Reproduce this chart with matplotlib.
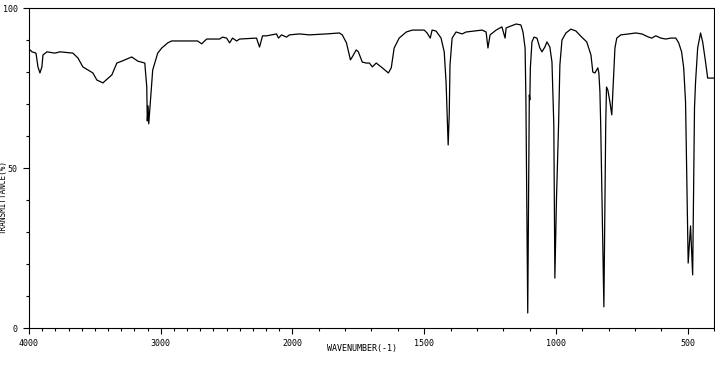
import numpy as np
import matplotlib.pyplot as plt
from matplotlib.ticker import FixedLocator, NullFormatter

# IR spectrum (wavenumber in cm-1, transmittance in %)
wavenumber = [
    4000, 3977, 3947, 3932, 3917, 3902, 3894, 3864, 3803, 3765, 3667, 3629,
    3591, 3515, 3485, 3439, 3371, 3333, 3295, 3220, 3174, 3121, 3106, 3102,
    3096, 3091, 3076, 3061, 3023, 2992, 2947, 2917, 2720, 2689, 2667, 2651,
    2553, 2530, 2500, 2477, 2455, 2424, 2401, 2273, 2250, 2227, 2197, 2121,
    2106, 2083, 2045, 2023, 1973, 1936, 1871, 1822, 1811, 1795, 1780, 1773,
    1758, 1750, 1735, 1720, 1708, 1697, 1682, 1659, 1636, 1625, 1614, 1595,
    1568, 1545, 1500, 1489, 1477, 1470, 1455, 1436, 1424, 1417, 1413, 1409,
    1405, 1402, 1394, 1379, 1356, 1341, 1280, 1265, 1258, 1250, 1227, 1205,
    1193, 1189, 1151, 1133, 1125, 1117, 1114, 1107, 1104, 1101, 1099, 1097,
    1091, 1083, 1072, 1061, 1053, 1042, 1034, 1023, 1015, 1011, 1008, 1004,
    998, 990, 985, 977, 962, 943, 924, 902, 883, 867, 860, 852,
    841, 837, 833, 830, 818, 811, 808, 803, 795, 788, 784, 776,
    769, 754, 723, 697, 674, 648, 636, 621, 602, 583, 564, 545,
    534, 523, 515, 508, 498, 489, 481, 474, 470, 462, 451, 443,
    432, 424, 413, 400,
]
transmittance = [
    87.2, 86.3, 85.9, 81.6, 79.7, 81.6, 85.3, 86.3, 85.9, 86.3, 85.9, 84.4,
    81.6, 79.7, 77.5, 76.6, 79.1, 82.8, 83.4, 84.7, 83.4, 82.8, 75.3, 64.7,
    69.4, 63.8, 72.2, 80.6, 85.9, 87.5, 89.1, 89.7, 89.7, 88.8, 89.7, 90.3,
    90.3, 90.9, 90.6, 89.1, 90.6, 89.7, 90.3, 90.6, 87.8, 91.3, 91.3, 91.9,
    90.6, 91.6, 90.9, 91.6, 91.9, 91.6, 91.9, 92.2, 91.6, 89.1, 83.8, 84.7,
    86.9, 86.3, 83.1, 82.8, 82.8, 81.6, 82.8, 81.3, 79.7, 81.3, 87.5, 90.6,
    92.5, 93.1, 93.1, 92.2, 90.6, 93.1, 92.8, 90.6, 86.3, 76.9, 66.6, 57.2,
    66.6, 82.2, 90.6, 92.5, 91.9, 92.5, 93.1, 92.5, 87.5, 91.6, 93.1, 94.1,
    90.6, 93.8, 95.0, 94.7, 92.5, 87.5, 71.9, 4.7, 40.0, 72.8, 71.3, 81.3,
    89.4, 90.9, 90.6, 87.5, 86.3, 87.8, 89.4, 87.8, 83.1, 71.9, 63.4, 15.6,
    40.0, 63.4, 82.2, 90.0, 92.2, 93.4, 92.8, 90.9, 89.4, 85.3, 80.0, 79.7,
    81.3, 79.7, 73.8, 63.4, 6.6, 63.4, 75.3, 74.4, 70.6, 66.6, 73.8, 87.5,
    90.6, 91.6, 91.9, 92.2, 91.9, 90.9, 90.6, 91.3, 90.6, 90.3, 90.6, 90.6,
    89.1, 86.3, 81.3, 70.6, 20.3, 31.9, 16.6, 68.8, 76.9, 87.5, 92.2, 89.4,
    83.1, 78.1, 78.1, 78.1,
]

major_ticks = [4000, 3000, 2000, 1500, 1000, 500]
minor_ticks = [w for w in range(400, 4001, 100) if w not in major_ticks]


# axis is compressed by 2 above 2000 cm-1
def forward(x):
    x = np.asarray(x, dtype=float)
    return np.where(x > 2000, 2000 + (x - 2000) / 2, x)


def inverse(u):
    u = np.asarray(u, dtype=float)
    return np.where(u > 2000, 2000 + (u - 2000) * 2, u)


plt.rcParams['font.family'] = 'DejaVu Sans Mono'

fig = plt.figure(figsize=(7.15, 3.65), dpi=100)
ax = fig.add_axes([29 / 715, 37 / 365, 685 / 715, 320 / 365])

ax.plot(wavenumber, transmittance, color='black', linewidth=0.9)

ax.set_xscale('function', functions=(forward, inverse))
ax.set_xlim(4000, 400)
ax.set_ylim(0, 100)

ax.xaxis.set_major_locator(FixedLocator(major_ticks))
ax.xaxis.set_minor_locator(FixedLocator(minor_ticks))
ax.xaxis.set_minor_formatter(NullFormatter())
ax.set_xticklabels([str(t) for t in major_ticks])
ax.set_yticks([0, 50, 100])
ax.set_yticks(range(10, 100, 10), minor=True)

ax.tick_params(which='major', length=4, width=0.8, labelsize=6, pad=4)
ax.tick_params(which='minor', length=2.5, width=0.8)
for s in ax.spines.values():
    s.set_linewidth(0.8)

fig.text(362 / 715, 17 / 365, 'WAVENUMBER(-1)', fontsize=6, ha='center', va='center')
fig.text(3.5 / 715, 168 / 365, 'TRANSMITTANCE(%)', fontsize=5.5, rotation=90,
         ha='center', va='center')

fig.savefig('out.png', dpi=100)
